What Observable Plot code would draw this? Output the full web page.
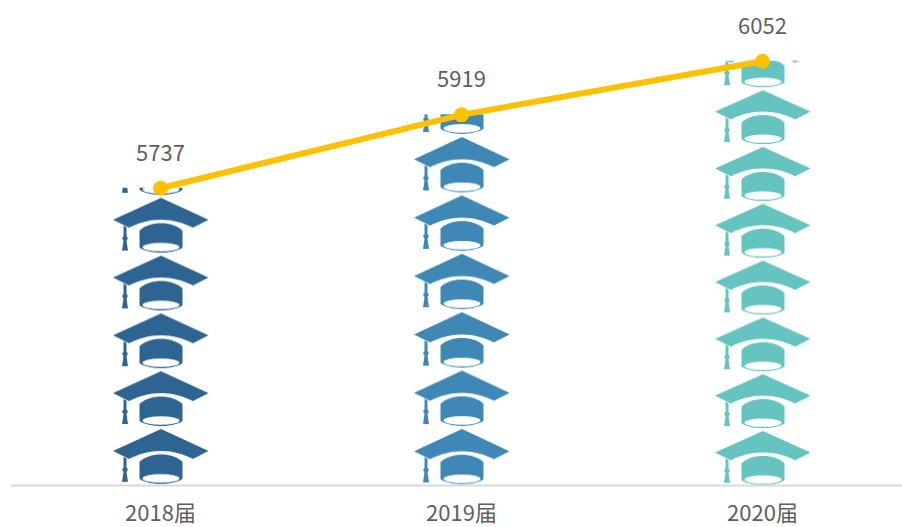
<!DOCTYPE html>
<html><head><meta charset="utf-8">
<script src="https://cdn.jsdelivr.net/npm/d3@7"></script>
<script src="https://cdn.jsdelivr.net/npm/@observablehq/plot@0.6"></script>
<style>html,body{margin:0;padding:0;background:#fff}svg{display:block}</style>
</head><body><div id="chart"></div>
<script>
const years = ["2018届","2019届","2020届"];
const graduates = [5737,5919,6052];
const baseline = [5000];
const capColors = ["#2E6491","#3F88B5","#66C4C0"];
const capPeriods = [57.8,58.4,56.8];
const capLift = [56,56,54];
const rows = years.map((year,i)=>({year,value:graduates[i],base:baseline[0]}));
const patternId = i => `cap-${i}`;
const NS = "http://www.w3.org/2000/svg";

function capTile(i){
  const c = capColors[i];
  return `<path fill="${c}" d="M0 0 L47.5 22 L32 30 C22 25 12 22 0 22 C-12 22 -22 25 -32 30 L-48 22 Z"/>
  <path fill="${c}" d="M-21.5 33 C-12 23 12 23 21.5 33 L21.5 50 C12 56.7 -12 56.7 -21.5 50 Z"/>
  <ellipse cx="0" cy="49.5" rx="18.5" ry="4.3" fill="#fff"/>
  <path fill="${c}" d="M-37.5 28 L-34.5 29.5 L-34.5 38.5 L-33 40.5 L-34.5 43 L-33 53 L-39 53 L-37.5 43 L-39 40.5 L-37.5 38.5 Z"/>`;
}

const defsMark = (index, scales) => {
  const g = document.createElementNS(NS,"g");
  const step = scales.x(years[1]) - scales.x(years[0]);
  const defs = years.map((y,i)=>{
    const cx = scales.x(y) + step/2 + 1;
    const y0 = scales.y(baseline[0]) - capLift[i];
    const w = 300, h = capPeriods[i];
    const k = h/58;
    return `<pattern id="${patternId(i)}" patternUnits="userSpaceOnUse" width="${w}" height="58" patternTransform="translate(${cx-w/2} ${y0}) scale(1 ${k})"><g transform="translate(${w/2} 0)">${capTile(i)}</g></pattern>`;
  }).join("");
  g.innerHTML = `<defs>${defs}</defs>`;
  return g;
};

const plot = Plot.plot({
  width:902, height:527,
  marginLeft:11, marginRight:0, marginTop:1, marginBottom:42,
  x:{type:"band",domain:years,range:[9.5,912.5],padding:0,round:false,axis:null},
  y:{domain:[5000,6200],axis:null},
  style:{background:"#fff",fontFamily:"'Noto Sans CJK SC','Noto Sans',sans-serif"},
  marks:[
    defsMark,
    ...rows.map((r,i)=>Plot.rectY([r],{x:"year",y1:"base",y2:"value",fill:`url(#${patternId(i)})`,insetLeft:99,insetRight:99})),
    Plot.ruleY(baseline,{stroke:"#D9D9D9",strokeWidth:2}),
    Plot.line(rows,{x:"year",y:"value",stroke:"#FFC000",strokeWidth:6}),
    Plot.dot(rows,{x:"year",y:"value",r:7.5,fill:"#FFC000"}),
    Plot.text(rows,{x:"year",y:"value",text:d=>String(d.value),dy:-34.5,fontSize:22,fill:"#5f5f5f"}),
    Plot.axisX({tickSize:0,tickPadding:20,fontSize:22,color:"#5f5f5f",label:null})
  ]
});
document.getElementById("chart").append(plot);
</script></body></html>
